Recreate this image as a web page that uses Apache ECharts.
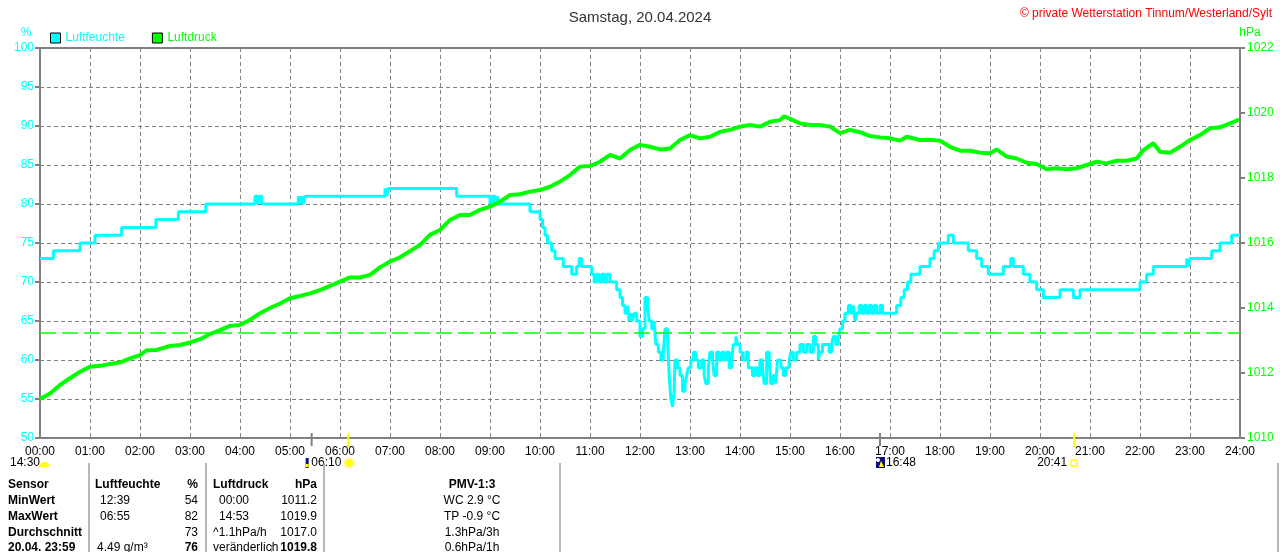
<!DOCTYPE html>
<html lang="de">
<head>
<meta charset="UTF-8">
<title>Luftfeuchte / Luftdruck · 20.04.2024</title>
<script src="https://cdn.jsdelivr.net/npm/echarts@6/dist/echarts.min.js"></script>
<style>
  html,body{margin:0;padding:0;width:100%;height:100%;overflow:hidden;background:#fff;}
  #chart{position:absolute;left:0;top:0;width:1280px;height:552px;}
</style>
</head>
<body>
<div id="chart"></div>
<script>
/* ==== Daten (Minuten seit 00:00, Wert) ==== */
const humidity = [
  [0,73],[16,74],[48,75],[66,76],[98,77],[139,78],[166,79],[199,80],
  [258,81],[261,80],[263,81],[266,80],
  [310,81],[312,80],[314,81],[316,80],[318,81],
  [414,82],[416,81],[418,82],
  [500,81],[540,80],[543,81],[546,80],[549,81],[551,80],
  [588,79],[600,78],[603,77],[606,76],[609,75],[614,74],[618,73],[628,72],[638,71],
  [644,72],[647,73],[650,72],[662,71],[665,70],[668,71],[671,70],[674,71],[677,70],[680,71],[684,70],
  [692,69],[696,68],[699,67],[702,66],[705,67],[707,65],[709,66],[711,65],[713,66],[716,65],
  [720,63],[723,64],[726,68],[729,67],[731,65],[734,64],[737,65],[739,62],[742,61],[745,60],
  [748,61],[750,64],[753,63],[755,58],[757,55],[759,54],[761,56],[762,60],[765,59],[768,58],
  [771,56],[774,57],[776,58],[778,59],[781,60],[784,61],[787,60],[790,59],[794,60],[797,58],
  [799,57],[802,59],[804,61],[807,60],[809,58],[812,61],[815,60],[818,61],[821,60],[824,61],
  [827,59],[830,60],[832,62],[835,63],[837,62],[840,61],[843,60],[847,61],[850,59],[855,58],
  [858,59],[861,58],[864,60],[867,59],[869,57],[872,61],[875,60],[877,57],[880,58],[883,57],
  [885,60],[889,59],[892,58],[895,59],[899,60],[901,61],[904,60],[908,61],[912,62],[916,61],
  [920,62],[924,61],[928,63],[931,62],[934,60],[936,61],[939,62],[947,61],[950,62],[952,63],
  [955,62],[958,63],[960,64],[963,65],[966,66],[970,67],[973,66],[976,67],[978,65],[980,66],
  [983,67],[986,66],[989,67],[992,66],[995,67],[998,66],[1001,67],[1004,66],[1008,67],[1011,66],
  [1016,66],[1022,66],[1028,67],[1033,68],[1037,69],[1041,70],[1045,71],[1056,72],[1068,73],
  [1073,74],[1078,75],[1090,76],[1096,75],[1114,74],[1124,73],[1130,72],[1138,71],
  [1156,72],[1165,73],[1168,72],[1180,71],[1188,70],[1196,69],[1204,68],[1224,69],[1240,68],
  [1248,69],[1320,70],[1328,71],[1336,72],[1376,73],[1378,72],[1380,73],[1406,74],[1416,75],
  [1430,76],[1440,76]
];

const pressure = [
  [0,1011.2],[12,1011.37],[24,1011.63],[36,1011.84],[48,1012.04],[60,1012.19],[72,1012.22],
  [84,1012.28],[96,1012.32],[108,1012.45],[120,1012.55],[128,1012.70],[140,1012.71],[156,1012.83],
  [168,1012.86],[180,1012.94],[192,1013.04],[204,1013.2],[216,1013.32],[228,1013.45],[240,1013.48],
  [252,1013.63],[264,1013.84],[276,1014.0],[288,1014.14],[300,1014.3],[312,1014.37],[324,1014.45],
  [336,1014.55],[348,1014.68],[360,1014.81],[372,1014.94],[384,1014.94],[396,1015.02],[408,1015.25],
  [420,1015.43],[432,1015.56],[444,1015.75],[456,1015.94],[468,1016.25],[480,1016.4],[492,1016.71],
  [504,1016.86],[516,1016.86],[528,1017.02],[540,1017.12],[552,1017.27],[564,1017.48],[576,1017.5],
  [588,1017.58],[600,1017.63],[612,1017.73],[624,1017.89],[636,1018.09],[648,1018.35],[660,1018.37],
  [672,1018.5],[684,1018.71],[696,1018.6],[708,1018.86],[720,1019.02],[732,1018.96],[744,1018.88],
  [756,1018.91],[768,1019.17],[780,1019.32],[792,1019.22],[804,1019.27],[816,1019.42],[828,1019.48],
  [840,1019.58],[852,1019.63],[864,1019.58],[876,1019.73],[888,1019.78],[893,1019.9],[912,1019.68],
  [924,1019.63],[936,1019.63],[948,1019.58],[960,1019.38],[972,1019.48],[984,1019.41],[996,1019.29],
  [1008,1019.25],[1020,1019.22],[1032,1019.15],[1040,1019.27],[1056,1019.17],[1068,1019.17],
  [1080,1019.15],[1092,1018.96],[1104,1018.84],[1116,1018.84],[1128,1018.78],[1140,1018.76],
  [1148,1018.88],[1160,1018.66],[1172,1018.6],[1184,1018.47],[1196,1018.43],[1208,1018.27],
  [1220,1018.3],[1232,1018.27],[1244,1018.3],[1256,1018.4],[1268,1018.5],[1280,1018.45],
  [1292,1018.53],[1304,1018.53],[1316,1018.6],[1324,1018.86],[1336,1019.07],[1344,1018.81],
  [1356,1018.78],[1368,1018.96],[1380,1019.17],[1392,1019.32],[1404,1019.53],[1416,1019.56],
  [1428,1019.68],[1439,1019.8]
];

const normalPressure = 1013.25;

/* Sonne / Mond (Minuten) */
const sunEvents  = [{m:370, text:'06:10'}, {m:1241, text:'20:41'}];
const moonEvents = [{m:326, text:''}, {m:1008, text:'16:48'}];
const moonPhaseText = '14:30';

/* Tabelle unten */
const tableHead = ['Sensor','Luftfeuchte','%','Luftdruck','hPa','PMV-1:3'];
const tableRows = [
  ['MinWert','12:39','54','00:00','1011.2','WC 2.9 °C'],
  ['MaxWert','06:55','82','14:53','1019.9','TP -0.9 °C'],
  ['Durchschnitt','','73','^1.1hPa/h','1017.0','1.3hPa/3h'],
  ['20.04. 23:59','4.49 g/m³','76','veränderlich','1019.8','0.6hPa/1h']
];

const FONT = "'Liberation Sans', Arial, sans-serif";
const CYAN = '#00ffff', GREEN = '#00ff00', GRAY = '#808080';
const pad2 = n => (n < 10 ? '0' : '') + n;

const chart = echarts.init(document.getElementById('chart'));
chart.setOption({
  animation: false,
  textStyle: {fontFamily: FONT},
  title: [
    {text: 'Samstag, 20.04.2024', left: 'center', top: 5,
     textStyle: {fontSize: 15, fontWeight: 'normal', color: '#333', fontFamily: FONT}},
    {text: '© private Wetterstation Tinnum/Westerland/Sylt', right: 3, top: 3,
     textStyle: {fontSize: 12, fontWeight: 'normal', color: '#ff0000', fontFamily: FONT}}
  ],
  legend: {
    left: 50, top: 32, padding: 0, itemWidth: 10, itemHeight: 10, itemGap: 27,
    icon: 'rect',
    itemStyle: {borderColor: '#000', borderWidth: 1},
    textStyle: {fontSize: 12, fontFamily: FONT},
    data: [
      {name: 'Luftfeuchte', textStyle: {color: CYAN}},
      {name: 'Luftdruck', textStyle: {color: GREEN}}
    ]
  },
  grid: {left: 40, right: 40, top: 48, bottom: 114, show: true, borderColor: GRAY, borderWidth: 2},
  xAxis: {
    type: 'value', min: 0, max: 1440, interval: 60,
    axisLine: {show: false}, axisTick: {show: false},
    axisLabel: {color: '#000', fontSize: 12, margin: 8,
      formatter: v => pad2(v / 60) + ':00'},
    splitLine: {show: true, showMinLine: false, showMaxLine: false,
      lineStyle: {color: GRAY, type: [4, 3], width: 1}}
  },
  yAxis: [
    {
      type: 'value', min: 50, max: 100, interval: 5, position: 'left',
      name: '%', nameLocation: 'end', nameGap: 9,
      nameTextStyle: {color: CYAN, fontSize: 12, padding: [0, 28, 0, 0]},
      axisLine: {show: false},
      axisTick: {show: true, length: 5, lineStyle: {color: GRAY, width: 2}},
      axisLabel: {color: CYAN, fontSize: 12, margin: 6},
      splitLine: {show: true, showMinLine: false, showMaxLine: false,
        lineStyle: {color: GRAY, type: [4, 3], width: 1}}
    },
    {
      type: 'value', min: 1010, max: 1022, interval: 2, position: 'right',
      name: 'hPa', nameLocation: 'end', nameGap: 9,
      nameTextStyle: {color: GREEN, fontSize: 12, padding: [0, 0, 0, 20]},
      axisLine: {show: false},
      axisTick: {show: true, length: 5, lineStyle: {color: GRAY, width: 2}},
      axisLabel: {color: GREEN, fontSize: 12, margin: 7, formatter: v => String(v)},
      splitLine: {show: false}
    }
  ],
  series: [
    {
      name: 'Luftfeuchte', type: 'line', yAxisIndex: 0, step: 'end',
      data: humidity, showSymbol: false, symbol: 'none',
      itemStyle: {color: CYAN},
      lineStyle: {color: CYAN, width: 3}
    },
    {
      name: 'Luftdruck', type: 'line', yAxisIndex: 1,
      data: pressure, showSymbol: false, symbol: 'none',
      itemStyle: {color: GREEN},
      lineStyle: {color: GREEN, width: 4},
      markLine: {
        silent: true, symbol: 'none', label: {show: false},
        lineStyle: {color: GREEN, type: [16, 6], width: 1.5},
        data: [{yAxis: normalPressure}]
      }
    }
  ]
});

/* ==== Sonne/Mond-Markierungen und Tabelle ==== */
const px = m => chart.convertToPixel({xAxisIndex: 0}, m);
const axisY = chart.convertToPixel({yAxisIndex: 0}, 50);
const g = [];
const txt = (x, y, text, opt = {}) => g.push({
  type: 'text', x, y, silent: true,
  style: Object.assign({text, fill: '#000', font: '12px ' + FONT,
    textAlign: 'left', textVerticalAlign: 'middle'}, opt)
});

sunEvents.forEach((e, i) => {
  const x = px(e.m);
  g.push({type: 'rect', shape: {x: x - 1, y: axisY - 5, width: 2, height: 14}, style: {fill: '#ffff00'}});
  txt(x - 7, 463, e.text, {textAlign: 'right'});
  if (i === 0) {
    g.push({type: 'circle', shape: {cx: x + 1, cy: 463, r: 5.5}, style: {fill: '#fff3a0'}});
    g.push({type: 'circle', shape: {cx: x + 1, cy: 463, r: 3.5}, style: {fill: '#ffff00'}});
  } else {
    g.push({type: 'rect', shape: {x: x - 3, y: 460, width: 6, height: 6},
      style: {fill: 'none', stroke: '#ffff00', lineWidth: 1.5}});
  }
});

moonEvents.forEach(e => {
  const x = px(e.m);
  g.push({type: 'rect', shape: {x: x - 1, y: axisY - 5, width: 2, height: 13}, style: {fill: GRAY}});
  if (e.text) {
    g.push({type: 'rect', shape: {x: x - 4, y: 457, width: 9, height: 11}, style: {fill: '#10107a'}});
    g.push({type: 'circle', shape: {cx: x - 2, cy: 460, r: 2}, style: {fill: '#fff'}});
    g.push({type: 'polygon', shape: {points: [[x + 1, 461], [x + 4, 467], [x - 1, 467]]}, style: {fill: '#ffff00'}});
    txt(x + 6, 463, e.text);
  } else {
    g.push({type: 'rect', shape: {x: x - 6, y: 458, width: 3, height: 10}, style: {fill: '#10107a'}});
    g.push({type: 'rect', shape: {x: x - 6, y: 464, width: 3, height: 3}, style: {fill: '#ffff00'}});
  }
});

txt(10, 463, moonPhaseText);
g.push({type: 'rect', shape: {x: 40, y: 462, width: 9, height: 5, r: [4, 4, 0, 0]}, style: {fill: '#ffff00'}});

/* Tabelle */
const rowY = [485, 501, 517, 533, 548];
const sepX = [89, 206, 324, 560, 1278];
sepX.forEach(x => g.push({type: 'line', silent: true,
  shape: {x1: x, y1: 463, x2: x, y2: 552}, style: {stroke: '#a0a0a0', lineWidth: 1.5}}));

const colDef = [
  {x: 8, align: 'left'}, {x: 100, align: 'left'}, {x: 198, align: 'right'},
  {x: 219, align: 'left'}, {x: 317, align: 'right'}, {x: 472, align: 'center'}
];
const B = 'bold 12px ' + FONT, N = '12px ' + FONT;
tableHead.forEach((t, c) => {
  const x = c === 1 ? 95 : c === 3 ? 213 : colDef[c].x;
  txt(x, rowY[0], t, {font: B, textAlign: colDef[c].align});
});
tableRows.forEach((row, r) => {
  row.forEach((t, c) => {
    if (!t) return;
    let x = colDef[c].x, font = N;
    if (c === 0) font = B;
    if (r === 3 && (c === 2 || c === 4)) font = B;
    if (c === 3 && r >= 2) x = 213;
    if (c === 1 && r === 3) x = 97;
    txt(x, rowY[r + 1], t, {font, textAlign: colDef[c].align});
  });
});
txt(268, rowY[4], '↑', {font: 'bold 13px ' + FONT, fill: '#a05000'});

chart.setOption({graphic: g});
</script>
</body>
</html>
